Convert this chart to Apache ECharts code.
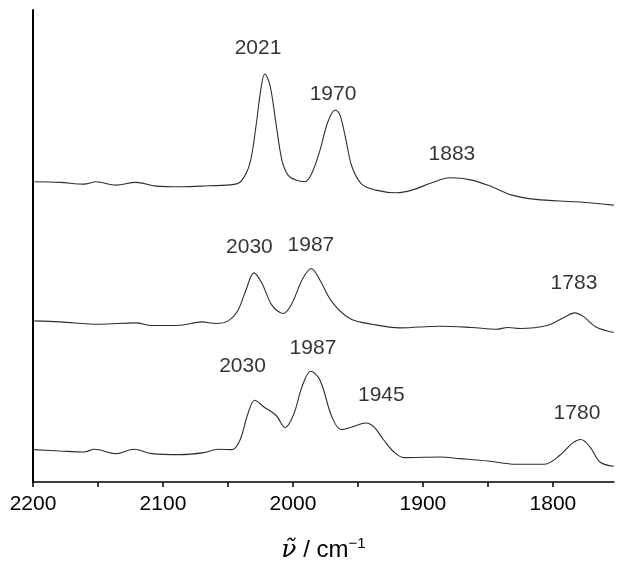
<!DOCTYPE html>
<html>
<head>
<meta charset="utf-8">
<script src="https://cdn.jsdelivr.net/npm/echarts@6/dist/echarts.min.js"></script>
<style>html,body{margin:0;padding:0;background:#fff;}#c{width:624px;height:571px;}</style>
</head>
<body>
<div id="c"></div>
<script>
// Wavenumbers (cm^-1) and stacked intensities (arbitrary units, offsets included)
const topWn = [2199,2179.2,2160.8,2151.5,2136.2,2120.8,2105.4,2086.9,2065.4,2045.4,2039.2,2033.1,2028.5,2024.8,2021.7,2017.7,2013.1,2008.5,2003.8,1997.7,1990.9,1985.4,1979.2,1973.1,1967.5,1963.8,1959.2,1954.6,1946.9,1936.2,1920.8,1908.5,1893.1,1879.2,1862.3,1846.9,1831.5,1813.1,1782.3,1753.1];
const topY  = [300,299.4,297.7,300,296.7,299.4,295.7,295,296,297.4,301.7,318.7,355,391.7,407.7,396.7,358.7,321.7,306.7,301.7,300,308.7,331.7,360,371.7,366.7,341.7,315,297.4,291.7,289,291.7,299,304,301.7,295,286.7,282.4,280,276.7];

const midWn = [2199,2179.2,2148.5,2120.8,2108.5,2086.9,2070,2059.2,2050,2042.3,2036.2,2030,2023.8,2016.2,2007.5,2000.8,1993.1,1986,1979.2,1970,1956.2,1939.2,1917.7,1886.9,1862.3,1843.8,1834.6,1825.4,1803.8,1791.5,1783.2,1776.2,1766.9,1753.1];
const midY  = [161,160,157.7,159,156.4,156.7,160,158.4,161,171.7,191.7,209,198.4,176.7,168.4,178.4,201.7,213.4,201.7,180,163.4,157.7,154,155.7,154.4,152.7,154.4,153.4,156.7,164.4,169,165,155,149.4];

const botWn = [2199,2179.2,2160.8,2152.5,2136.2,2122.3,2108.5,2086.9,2068.5,2057.7,2046.9,2040.8,2034.6,2029.4,2022.3,2013.1,2006,1999.2,1993.1,1986.3,1979.2,1970,1962.9,1954.6,1943.8,1937.7,1930,1922.3,1914.6,1886.9,1871.5,1850,1828.5,1806.9,1794.6,1785.4,1778.6,1771.5,1763.8,1753.1];
const botY  = [32.4,31,30,32.7,28.4,32.7,28.4,27.4,29.4,32.7,32.4,41.7,68.4,81.7,75,66.7,54.4,68.4,95,110.7,101.7,65,52.4,55,59,55,41.7,30,24.4,25,23.4,21,17.7,17.7,26.7,38.4,42.4,35,20,15.7];

// Peak annotations: text, wavenumber position, height position
const peakText = ['2021','1970','1883','2030','1987','1783','2030','1987','1945','1780'];
const peakWn   = [2026.9,1969.2,1877.7,2033.5,1986.2,1783.8,2038.8,1984.6,1932,1781.5];
const peakY    = [433.7,387.7,327.7,234.7,236.7,198.7,115.7,134.2,87,68.7];

const xTicks = [2200,2150,2100,2050,2000,1950,1900,1850,1800];
const xLabels = [2200,2100,2000,1900,1800];

const zip = (a,b) => a.map((v,i)=>[v,b[i]]);
const lineStyle = {color:'#2e2e2e', width:1.1};
const mkLine = (wn,y) => ({type:'line', data:zip(wn,y), showSymbol:false, symbol:'none', smooth:0.35, lineStyle, silent:true});

const chart = echarts.init(document.getElementById('c'), null, {renderer:'canvas'});
chart.setOption({
  animation:false,
  backgroundColor:'#fff',
  grid:{left:33, right:10, top:10, bottom:89, containLabel:false, outerBoundsMode:'none'},
  xAxis:{
    type:'value', inverse:true, min:1753, max:2200,
    axisLine:{show:true, onZero:false, lineStyle:{color:'#000', width:1.5}},
    axisTick:{show:true, inside:false, length:5, lineStyle:{color:'#000', width:1.5}, customValues:xTicks},
    axisLabel:{show:true, customValues:xLabels, formatter:v=>String(v), fontSize:21, color:'#000', fontFamily:'Liberation Sans', margin:12},
    splitLine:{show:false},
    name:'{nu|ν\u0303}{t| / cm}{sup|\u22121}',
    nameLocation:'middle', nameGap:54,
    nameTextStyle:{
      rich:{
        nu:{fontFamily:'DejaVu Serif', fontStyle:'italic', fontSize:25, color:'#000'},
        t:{fontFamily:'Liberation Sans', fontSize:24, color:'#000'},
        sup:{fontFamily:'Liberation Sans', fontSize:15, color:'#000', verticalAlign:'top', padding:[0,0,13,0]}
      }
    }
  },
  yAxis:{
    type:'value', min:0, max:471.7,
    axisLine:{show:true, onZero:false, lineStyle:{color:'#000', width:2}},
    axisTick:{show:false}, axisLabel:{show:false}, splitLine:{show:false}
  },
  series:[
    mkLine(topWn, topY),
    mkLine(midWn, midY),
    mkLine(botWn, botY),
    {
      type:'scatter', silent:true, symbolSize:1, itemStyle:{color:'rgba(0,0,0,0)'},
      data: peakWn.map((w,i)=>({value:[w, peakY[i]], name:peakText[i]})),
      label:{show:true, position:'inside', formatter:p=>p.name, fontSize:21, color:'#000', fontFamily:'Liberation Sans'}
    }
  ]
});
</script>
</body>
</html>
